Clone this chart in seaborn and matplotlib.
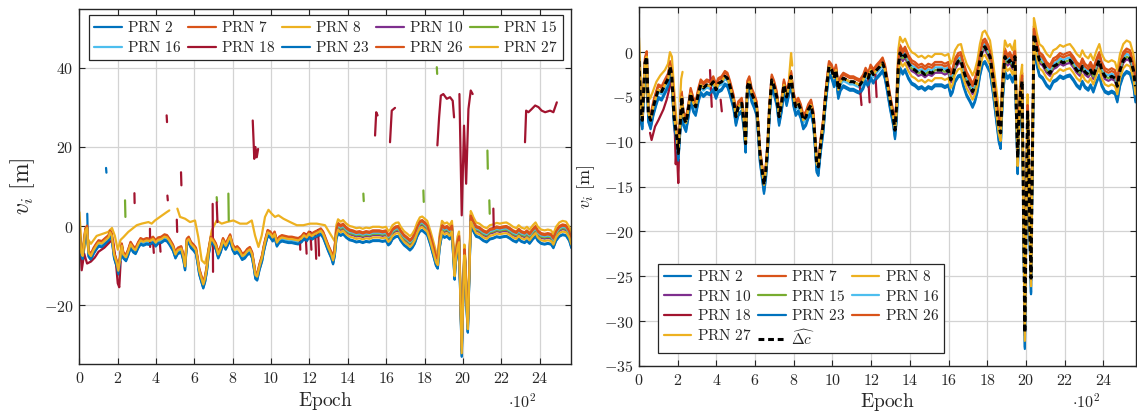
import numpy as np
import pandas as pd
import matplotlib
matplotlib.use("Agg")
import matplotlib.pyplot as plt
import seaborn as sns
from matplotlib.lines import Line2D

# ---------------- data ----------------
prn_ids = [2, 7, 8, 10, 15, 16, 18, 23, 26, 27]
prn_colors = ['#0072BD', '#D95319', '#EDB120', '#7E2F8E', '#77AC30',
              '#4DBEEE', '#A2142F', '#0072BD', '#D95319', '#EDB120']
nan = float('nan')
# per-PRN offset from the common clock term (before / after epoch 1330)
off_early = [-1.0, 0.6, nan, 0.0, 0.0, -0.3, nan, -0.8, 0.4, 0.0]
off_late = [-1.8, 0.9, 1.8, -0.3, 0.0, 0.3, nan, -1.6, 0.6, -0.9]
era_split = 1330
prn8_late_start_left = 1297
prn8_late_start_right = 1220

dc_epoch = [0, 10, 17, 31, 40, 48, 60, 74, 88, 100, 117, 134, 152, 160, 169, 181, 195, 203,
            212, 221, 229, 243, 255, 267, 281, 293, 307, 319, 333, 350, 367, 384, 398, 410,
            427, 444, 457, 470, 488, 501, 513, 531, 543, 551, 560, 570, 582, 596, 608, 617,
            625, 636, 646, 656, 665, 674, 686, 698, 712, 724, 737, 749, 763, 775, 786, 798,
            810, 823, 836, 849, 863, 875, 889, 901, 910, 918, 927, 939, 953, 961, 970, 982,
            996, 1008, 1018, 1030, 1042, 1056, 1073, 1090, 1108, 1125, 1142, 1159, 1171,
            1185, 1197, 1211, 1228, 1245, 1259, 1271, 1280, 1297, 1314, 1323, 1332, 1340,
            1349, 1363, 1375, 1392, 1409, 1426, 1444, 1461, 1478, 1495, 1513, 1530, 1547,
            1564, 1581, 1599, 1611, 1621, 1633, 1650, 1664, 1676, 1693, 1711, 1724, 1736,
            1749, 1762, 1776, 1788, 1800, 1814, 1831, 1848, 1860, 1869, 1879, 1891, 1904,
            1917, 1931, 1943, 1950, 1957, 1963, 1972, 1980, 1986, 1994, 2000, 2008, 2013,
            2020, 2026, 2033, 2041, 2047, 2055, 2069, 2086, 2107, 2124, 2141, 2158, 2176,
            2193, 2210, 2227, 2245, 2262, 2279, 2291, 2305, 2322, 2334, 2348, 2365, 2379,
            2391, 2408, 2426, 2443, 2460, 2472, 2486, 2503, 2520, 2538, 2555, 2566]
dc_value = [-1.0, -6.8, -7.6, -1.2, -0.5, -6.8, -7.6, -6.1, -5.0, -4.2, -4.4, -3.65, -2.9,
            -1.6, -2.5, -7.2, -9.4, -11.3, -8.3, -5.0, -7.2, -7.9, -6.4, -4.6, -5.7, -6.1,
            -4.6, -3.65, -4.0, -3.65, -3.8, -3.3, -4.2, -3.5, -3.3, -2.7, -2.9, -3.8, -5.3,
            -7.2, -6.1, -5.7, -7.9, -10.2, -3.8, -3.3, -4.6, -5.3, -6.1, -8.7, -11.3, -13.1,
            -14.8, -13.1, -10.5, -6.4, -3.1, -3.8, -5.0, -7.2, -5.7, -3.65, -5.0, -3.8, -2.7,
            -5.0, -6.1, -5.7, -6.4, -7.6, -7.2, -6.4, -5.9, -7.2, -9.8, -12.4, -12.8, -10.2,
            -7.9, -5.7, -3.8, -1.6, -2.0, -2.9, -2.0, -4.2, -3.3, -2.9, -3.1, -3.3, -3.3,
            -3.5, -3.65, -3.1, -2.35, -2.9, -2.0, -2.5, -2.0, -1.6, -1.2, -2.0, -3.1, -5.3,
            -7.2, -8.7, -5.7, -1.6, -0.1, -0.7, -0.3, -1.2, -1.8, -2.0, -2.35, -2.2, -2.5,
            -2.2, -2.35, -2.0, -2.0, -2.0, -2.2, -2.0, -3.1, -2.7, -1.6, -1.0, -0.9, -2.0,
            -3.1, -3.8, -4.4, -3.8, -2.7, -0.9, 0.4, 0.6, 0.1, -0.5, -3.1, -6.1, -8.3, -9.0,
            -3.8, -0.5, -1.2, -0.9, -1.6, -0.5, -6.0, -11.8, -7.6, -4.5, -3.2, -15.0, -31.3,
            -20.0, -6.5, -10.0, -20.0, -25.2, -12.0, 2.0, 1.4, 0.4, -0.9, -1.2, -2.0, -2.35,
            -1.6, -1.4, -1.0, -1.2, -1.0, -0.9, -1.4, -2.0, -2.35, -1.6, -2.2, -2.5, -2.0,
            -2.7, -1.6, -0.9, -2.0, -2.7, -2.9, -2.7, -2.9, -3.8, -2.0, -0.9, -0.5, -0.7,
            -2.0, -3.8]

# extra segments (epoch list, value list) that deviate from the common band
left_prn2_segments = [([41, 43], [3.1, -1.1]), ([139, 141], [14.7, 13.5])]
left_prn15_segments = [([238, 240], [6.5, 2.3]), ([716, 718], [7.3, 6.1]),
                       ([777, 779], [8.2, 1.4]), ([1481, 1483], [8.2, 6.3]),
                       ([1794, 1796], [9.0, 6.1]), ([1864, 1866], [40.2, 38.5]),
                       ([2128, 2130], [19.1, 14.5]), ([2138, 2140], [6.5, 3.1])]
left_prn8_segments = [
    ([0, 10, 20, 40, 60, 90, 120, 150, 170, 185, 200, 215, 230, 255, 299, 325, 360, 377,
      394, 420, 455, 469],
     [3.5, -4, -7, -3, -4.5, -2.5, -2.0, -1.5, -0.5, -2.5, -6, -3.5, -2.8, -1.5, 0.2, 0.6,
      1.0, 0.6, 1.4, 2.3, 3.5, 3.95]),
    ([511, 525, 551, 577, 603, 620, 638, 655, 673, 690, 716, 742, 768, 803, 838, 873, 899,
      916, 934, 951, 968, 986, 1003, 1020, 1038, 1064, 1099, 1134, 1168, 1203, 1238, 1281],
     [4.4, 2.3, 1.85, 1.0, 1.4, -2.8, -8.7, -9.5, -6.1, -1.1, 1.4, 0.6, 1.0, 1.4, 0.6, 0.6,
      1.4, -2.4, -5.3, -2.4, 2.3, 4.1, 3.1, 2.3, 2.7, 1.85, 1.0, 0.2, 0.2, 0.6, 0.6, 0.2]),
]
left_prn18_segments = [
    ([3, 12, 25, 40, 60, 80, 100, 130, 160, 175, 190, 200, 208, 215],
     [-3, -11.2, -7, -9.5, -9, -8, -6.5, -5.5, -4, -3.5, -9, -14.5, -15.5, -9]),
    ([287, 288], [8.3, 5.8]), ([368, 369], [-0.7, -5.3]), ([385, 388], [-4.5, -6.8]),
    ([420, 423], [-4.5, -6.5]), ([455, 457], [28.0, 26.3]), ([459, 461], [7.7, 6.5]),
    ([508, 510], [1.6, -1.5]), ([530, 532], [13.6, 10.3]), ([695, 697], [5.6, -11.6]),
    ([716, 720], [6.0, 1.0]),
    ([904, 908, 912, 918, 925, 932], [26.7, 22.0, 17.0, 20.0, 17.4, 19.5]),
    ([1150, 1152], [-3.0, -6.0]), ([1180, 1185], [-2.0, -7.0]), ([1205, 1210], [-1.5, -6.0]),
    ([1230, 1235], [-2.0, -8.3]), ([1245, 1250], [-1.0, -7.5]),
    ([1542, 1548, 1555], [22.9, 28.8, 28.0]),
    ([1620, 1629, 1646], [21.2, 29.2, 29.9]),
    ([1867, 1876, 1885, 1898, 1916, 1933, 1947, 1954],
     [20.4, 27.5, 33.0, 33.4, 32.2, 32.6, 31.7, 27.5]),
    ([1982, 1994, 2006, 2017, 2029, 2041, 2051], [33.4, 2.7, 25.4, 10.7, 29.6, 34.3, 33.4]),
    ([2159, 2161], [4.4, -0.7]),
    ([2324, 2330, 2342, 2359, 2377, 2394, 2411, 2429, 2455, 2472, 2490],
     [21.2, 29.2, 28.8, 29.6, 30.5, 30.1, 29.2, 28.8, 29.2, 28.8, 31.3]),
]
right_prn8_segments = [
    ([0, 10, 17, 31, 40, 57, 70, 90, 110, 134, 150, 160, 170, 181, 195],
     [1.6, -3.5, -6.5, -4.0, -3.5, -5.2, -4.5, -3.3, -2.6, -2.0, -1.3, 0.0, -0.5, -4.0, -8.0]),
    ([212, 218, 225], [-5.5, -3.0, -2.2]),
    ([775, 786, 792], [-3.0, -0.1, -1.5]),
]
right_prn18_segments = [
    ([57, 65, 83, 100, 126, 143, 160, 169, 180, 190, 195, 203, 206],
     [-9.0, -9.8, -8.3, -7.6, -6.4, -5.3, -3.8, -2.7, -5.0, -12.5, -10.5, -14.6, -12.0]),
    ([367, 376], [-2.0, -6.1]), ([422, 428], [-5.3, -6.6]),
    ([1140, 1150], [-3.5, -5.9]), ([1185, 1192], [-3.0, -5.6]), ([1222, 1228], [-2.5, -5.0]),
]

x_ticks = [0, 200, 400, 600, 800, 1000, 1200, 1400, 1600, 1800, 2000, 2200, 2400]
x_tick_labels = ['0', '2', '4', '6', '8', '10', '12', '14', '16', '18', '20', '22', '24']
left_y_ticks = [-20, 0, 20, 40]
right_y_ticks = [-35, -30, -25, -20, -15, -10, -5, 0]

# ---------------- build per-panel tables ----------------
def band_segment(i, start):
    ep, val = [], []
    for e, v in zip(dc_epoch, dc_value):
        if e < start:
            continue
        off = off_early[i] if e < era_split else off_late[i]
        if np.isnan(off):
            continue
        ep.append(e)
        val.append(v + off)
    return ep, val

def panel_segments(panel):
    segs = {p: [] for p in prn_ids}
    for i, p in enumerate(prn_ids):
        if p == 8:
            start = prn8_late_start_left if panel == 'left' else prn8_late_start_right
            own = left_prn8_segments if panel == 'left' else right_prn8_segments
            own = [(list(a), list(b)) for a, b in own]
            ep, val = band_segment(i, start)
            if panel == 'left':
                own[-1] = (own[-1][0] + ep, own[-1][1] + val)
            else:
                own.append((ep, val))
            segs[p] = own
        elif p == 18:
            segs[p] = left_prn18_segments if panel == 'left' else right_prn18_segments
        else:
            segs[p] = [band_segment(i, 0)]
            if panel == 'left' and p == 2:
                segs[p] = segs[p] + left_prn2_segments
            if panel == 'left' and p == 15:
                segs[p] = segs[p] + left_prn15_segments
    return segs

def to_frame(seglist):
    rows = []
    for k, (ep, val) in enumerate(seglist):
        for e, v in zip(ep, val):
            rows.append((k, e, v))
    return pd.DataFrame(rows, columns=['seg', 'epoch', 'value'])

# ---------------- styling ----------------
sns.set_theme(style='white')
plt.rcParams['font.family'] = ['DejaVu Serif']
plt.rcParams['mathtext.fontset'] = 'cm'

W, H = 1137, 417
fig = plt.figure(figsize=(W / 100, H / 100), dpi=100)
ax_l = fig.add_axes([79.4 / W, 1 - 364.3 / H, 492 / W, 355.6 / H])
ax_r = fig.add_axes([639 / W, 1 - 366 / H, 496.5 / W, 358.7 / H])

LW = 1.6
dash = (0, (1.9, 1.25))

for ax, panel in ((ax_l, 'left'), (ax_r, 'right')):
    segs = panel_segments(panel)
    for i, p in enumerate(prn_ids):
        df = to_frame(segs[p])
        sns.lineplot(data=df, x='epoch', y='value', units='seg', estimator=None,
                     sort=False, color=prn_colors[i], lw=LW, ax=ax, legend=False)
    if panel == 'right':
        sns.lineplot(x=dc_epoch, y=dc_value, color='black', lw=2.2, linestyle=dash,
                     estimator=None, sort=False, ax=ax, legend=False)

def style(ax, yticks, ylim, ylabel, ylsize):
    ax.set_xlim(0, 2566)
    ax.set_ylim(*ylim)
    ax.set_xticks(x_ticks)
    ax.set_xticklabels([r'$%s$' % t for t in x_tick_labels], fontsize=11.5)
    ax.set_yticks(yticks)
    ax.set_yticklabels([r'$%s$' % (('-' if t < 0 else '') + str(abs(t))) for t in yticks],
                       fontsize=11.5)
    ax.grid(True, color='#d3d3d3', lw=0.9)
    ax.set_axisbelow(True)
    for s in ax.spines.values():
        s.set_color('#262626')
        s.set_linewidth(1.0)
    ax.tick_params(direction='in', length=4, width=0.8, color='#262626',
                   top=True, right=True, bottom=True, left=True, pad=4)
    ax.set_xlabel(r'$\mathrm{Epoch}$', fontsize=14, labelpad=2)
    ax.set_ylabel(ylabel, fontsize=ylsize, labelpad=5)

style(ax_l, left_y_ticks, (-35, 55), r'$v_i\ \mathrm{[m]}$', 17)
style(ax_r, right_y_ticks, (-35, 5), r'$v_i\ \mathrm{[m]}$', 13)

fig.text(522 / W, 1 - 402 / H, r'$\cdot 10^2$', fontsize=11.5, ha='center', va='center')
fig.text(1086 / W, 1 - 402 / H, r'$\cdot 10^2$', fontsize=11.5, ha='center', va='center')

# legends
def h(i):
    return Line2D([], [], color=prn_colors[i], lw=LW)
lab = [r'$\mathrm{PRN\ %d}$' % p for p in prn_ids]
idx = {p: i for i, p in enumerate(prn_ids)}

leg_kw = dict(borderaxespad=0, fontsize=11, handlelength=1.8, handletextpad=0.35,
              columnspacing=0.45, labelspacing=0.3, frameon=True, fancybox=False,
              edgecolor='#262626', framealpha=1, borderpad=0.35)

left_order = [2, 16, 7, 18, 8, 23, 10, 26, 15, 27]
leg = ax_l.legend([h(idx[p]) for p in left_order], [lab[idx[p]] for p in left_order],
                  ncol=5, loc='upper center', bbox_to_anchor=(0.501, 0.982), **leg_kw)
leg.get_frame().set_linewidth(0.9)

dch = Line2D([], [], color='black', lw=2.2, linestyle=dash)
right_order = [2, 10, 18, 27, 7, 15, 23, 'dc', 8, 16, 26]
handles, labels = [], []
for p in right_order:
    if p == 'dc':
        handles.append(dch)
        labels.append(r'$\widehat{\Delta c}$')
    else:
        handles.append(h(idx[p]))
        labels.append(lab[idx[p]])
leg2 = ax_r.legend(handles, labels, ncol=3, loc='lower left', bbox_to_anchor=(0.039, 0.036),
                   **leg_kw)
leg2.get_frame().set_linewidth(0.9)

fig.savefig('out.png', dpi=100)
